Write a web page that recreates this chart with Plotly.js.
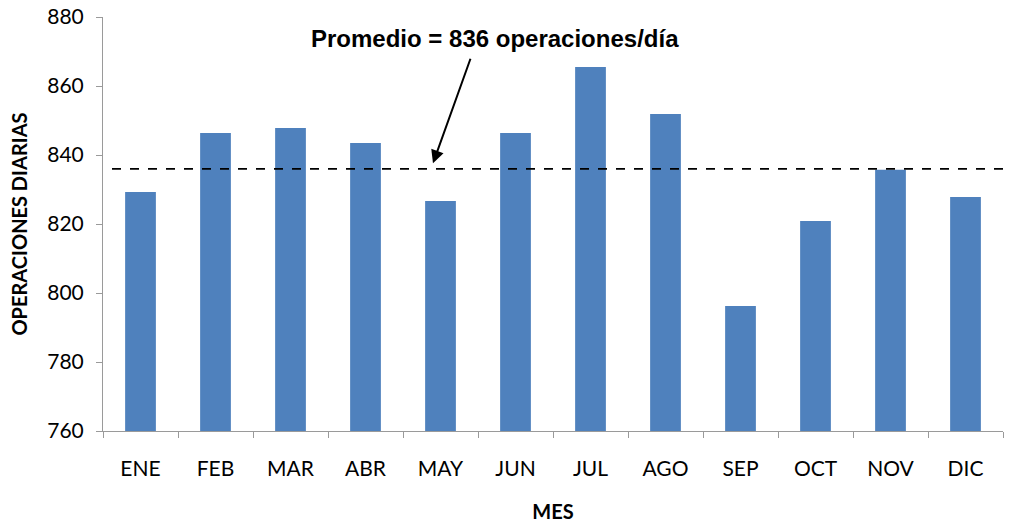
<!DOCTYPE html>
<html>
<head>
<meta charset="utf-8">
<script src="https://cdn.plot.ly/plotly-3.0.1.min.js"></script>
<style>html,body{margin:0;padding:0;background:#fff;}#chart{width:1009px;height:523px;}</style>
</head>
<body>
<div id="chart"></div>
<script>
var months = ["ENE","FEB","MAR","ABR","MAY","JUN","JUL","AGO","SEP","OCT","NOV","DIC"];
var operations = [829.3, 846.4, 847.8, 843.5, 826.7, 846.4, 865.5, 851.9, 796.2, 820.9, 835.7, 827.8];
var average = 836;
var yTicks = [760, 780, 800, 820, 840, 860, 880];
var annotationText = "Promedio = 836 operaciones/día";

var font = "Lato, Open Sans, Liberation Sans, Arial, sans-serif";

var trace = {
  type: "bar",
  x: months,
  y: operations,
  marker: {color: "#4F81BD"},
  hoverinfo: "x+y"
};

var layout = {
  width: 1009, height: 523,
  margin: {l: 103, r: 6, t: 17, b: 92},
  paper_bgcolor: "#fff", plot_bgcolor: "#fff",
  showlegend: false,
  bargap: 0.59,
  font: {family: font, color: "#000"},
  xaxis: {
    type: "category",
    showline: true, linecolor: "#9a9a9a", linewidth: 1,
    ticks: "outside", ticklen: 6, tickcolor: "#9a9a9a",
    tickson: "boundaries",
    tickfont: {size: 21, family: font},
    ticklabelstandoff: 19,
    showgrid: false, zeroline: false,
    title: {text: "<b>MES</b>", font: {size: 20, family: font}, standoff: 27}
  },
  yaxis: {
    range: [760, 880],
    tickvals: yTicks,
    showline: true, linecolor: "#9a9a9a", linewidth: 1,
    ticks: "outside", ticklen: 6, tickcolor: "#9a9a9a",
    tickfont: {size: 21, family: font},
    ticklabelstandoff: 8,
    showgrid: false, zeroline: false,
    title: {text: "<b>OPERACIONES DIARIAS</b>", font: {size: 20, family: font}, standoff: 14}
  },
  shapes: [{
    type: "line", xref: "paper", yref: "y",
    x0: 0.01, x1: 1, y0: average, y1: average,
    line: {color: "#000", width: 1.8, dash: "dash"}
  }],
  annotations: [{
    xref: "paper", yref: "paper",
    x: (495 - 103) / 900, y: (431 - 38) / 414,
    xanchor: "center", yanchor: "middle",
    text: "<b>" + annotationText + "</b>",
    showarrow: false,
    font: {size: 24, family: "Liberation Sans, Arial, sans-serif", color: "#000"}
  }, {
    xref: "paper", yref: "y",
    x: (433 - 103) / 900, y: 837.6,
    ax: 38, ay: -106, axref: "pixel", ayref: "pixel",
    text: "", showarrow: true,
    arrowhead: 2, arrowsize: 1.3, arrowwidth: 2, arrowcolor: "#000"
  }]
};

Plotly.newPlot("chart", [trace], layout, {displayModeBar: false, staticPlot: true});
</script>
</body>
</html>
